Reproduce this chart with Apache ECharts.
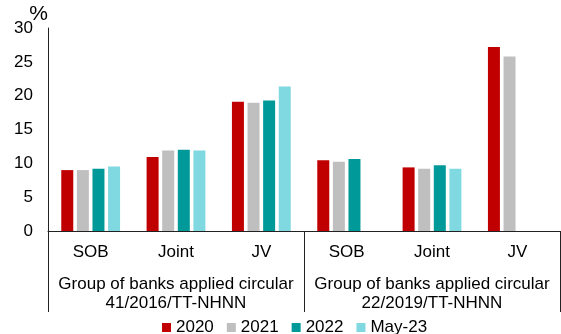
<!DOCTYPE html>
<html>
<head>
<meta charset="utf-8">
<script src="https://cdn.jsdelivr.net/npm/echarts@6/dist/echarts.min.js"></script>
<style>
  html, body { margin: 0; padding: 0; background: #fff; }
  #chart { width: 561px; height: 334px; }
</style>
</head>
<body>
<div id="chart"></div>
<script>
// Bank categories, two per circular group
const categories = ['SOB', 'Joint', 'JV', 'SOB', 'Joint', 'JV'];
const groups = [
  'Group of banks applied circular\n41/2016/TT-NHNN',
  'Group of banks applied circular\n22/2019/TT-NHNN'
];
const seriesNames = ['2020', '2021', '2022', 'May-23'];

// Ratios (%), one value per category; null = not reported
const v2020  = [9.0, 10.95, 19.1, 10.45, 9.4, 27.2];
const v2021  = [9.0, 11.9, 18.95, 10.25, 9.2, 25.8];
const v2022  = [9.2, 12.0, 19.3, 10.65, 9.7, null];
const vMay23 = [9.55, 11.9, 21.35, null, 9.2, null];

const yTicks = [0, 5, 10, 15, 20, 25, 30];

const colors = ['#C00000', '#BFBFBF', '#009999', '#80D8E1'];
const font = "'Liberation Sans', Arial, sans-serif";
const axisColor = '#222';

const chart = echarts.init(document.getElementById('chart'), null, { renderer: 'canvas' });

const values = [v2020, v2021, v2022, vMay23];

chart.setOption({
  animation: false,
  color: colors,
  textStyle: { fontFamily: font, color: '#000' },
  grid: { left: 48, right: 1, top: 28, bottom: 103, containLabel: false },
  legend: {
    data: seriesNames,
    left: 157,
    top: 314,
    icon: 'rect',
    itemWidth: 9,
    itemHeight: 9,
    itemGap: 13,
    textStyle: { fontFamily: font, fontSize: 17, color: '#000', lineHeight: 17 }
  },
  xAxis: [
    {
      type: 'category',
      data: categories,
      axisLine: { show: true, lineStyle: { color: axisColor, width: 1 } },
      axisTick: { show: false },
      axisLabel: {
        interval: 0,
        margin: 11,
        fontFamily: font,
        fontSize: 17,
        lineHeight: 20,
        color: '#000'
      }
    },
    {
      type: 'category',
      data: groups,
      position: 'bottom',
      axisLine: { show: false },
      axisTick: { show: true, length: 81, interval: 0, lineStyle: { color: axisColor, width: 1 } },
      axisLabel: {
        interval: 0,
        margin: 44,
        fontFamily: font,
        fontSize: 17,
        lineHeight: 19,
        color: '#000'
      }
    }
  ],
  yAxis: {
    type: 'value',
    min: yTicks[0],
    max: yTicks[yTicks.length - 1],
    interval: 5,
    name: '%',
    nameLocation: 'end',
    nameGap: 24,
    nameMoveOverlap: false,
    nameTextStyle: {
      fontFamily: font, fontSize: 21, color: '#000',
      align: 'right', verticalAlign: 'top', lineHeight: 21
    },
    axisLine: { show: true, lineStyle: { color: axisColor, width: 1 } },
    axisTick: { show: false },
    splitLine: { show: false },
    axisLabel: { margin: 15, fontFamily: font, fontSize: 17, color: '#000' }
  },
  series: seriesNames.map((name, i) => ({
    name: name,
    type: 'bar',
    xAxisIndex: 0,
    data: values[i],
    barWidth: 12,
    barGap: '30%',
    itemStyle: { color: colors[i] }
  }))
});
</script>
</body>
</html>
